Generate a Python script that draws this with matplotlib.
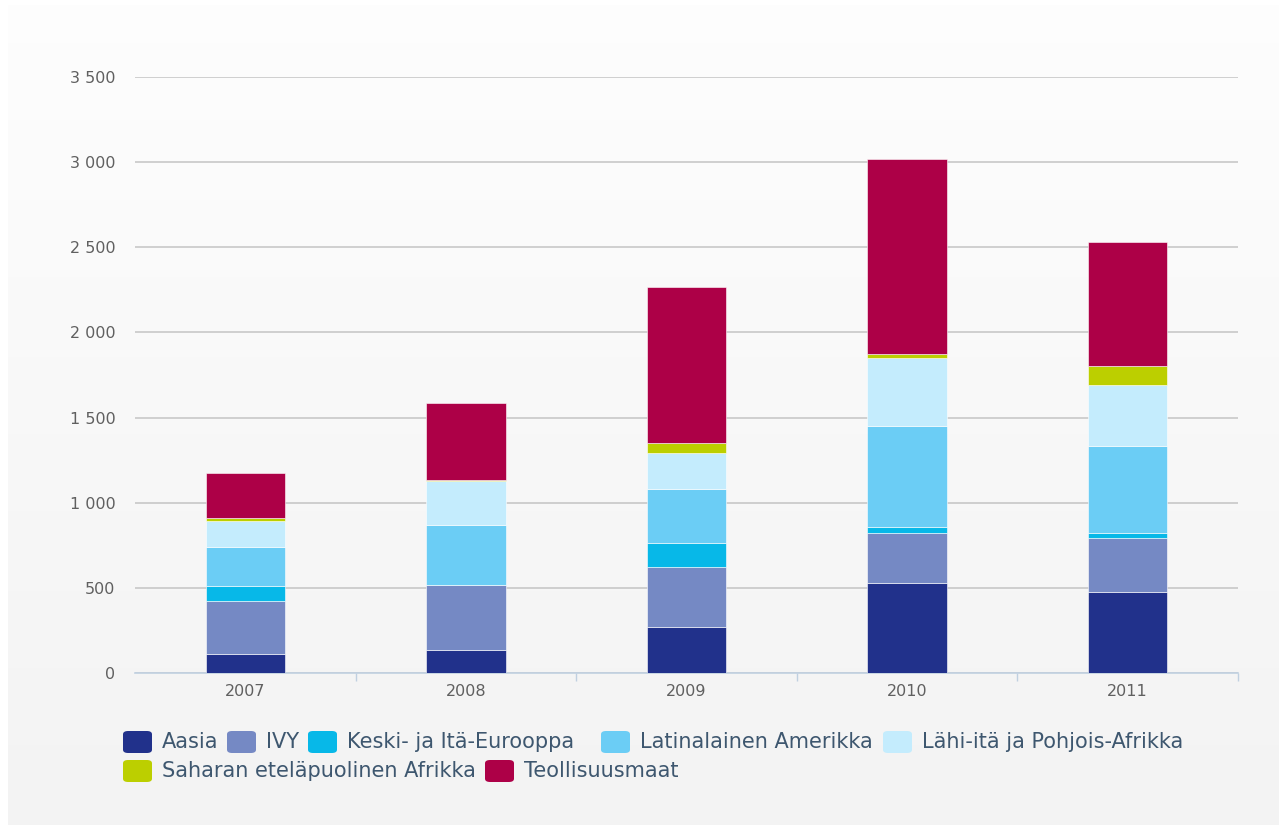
import numpy as np
import matplotlib
matplotlib.use("Agg")
import matplotlib.pyplot as plt
from matplotlib.patches import FancyBboxPatch

years = ["2007", "2008", "2009", "2010", "2011"]
aasia = [110, 135, 272, 527, 474]
ivy = [315, 382, 349, 293, 317]
keski = [88, 0, 141, 39, 33]
latin = [229, 354, 317, 593, 509]
lahi = [152, 256, 211, 396, 358]
sahara = [14, 6, 59, 25, 112]
teoll = [268, 452, 916, 1145, 726]

series_names = ["Aasia", "IVY", "Keski- ja Itä-Eurooppa", "Latinalainen Amerikka",
                "Lähi-itä ja Pohjois-Afrikka", "Saharan eteläpuolinen Afrikka", "Teollisuusmaat"]
series_colors = ["#21318b", "#7589c4", "#07b8e8", "#6bcdf5", "#c4ecfd", "#bccf00", "#ad0047"]
yticks = [0, 500, 1000, 1500, 2000, 2500, 3000, 3500]
ytick_labels = ["0", "500", "1 000", "1 500", "2 000", "2 500", "3 000", "3 500"]

W, H = 1279, 825
fig = plt.figure(figsize=(W / 100, H / 100), dpi=100, facecolor="white")

# gradient panel behind everything
bg = fig.add_axes([8 / W, 0, 1 - 8 / W, 1 - 5 / H], zorder=-10)
grad = np.linspace(0.994, 0.953, 256).reshape(-1, 1)
bg.imshow(np.dstack([grad, grad, grad]), aspect="auto", extent=[0, 1, 0, 1])
bg.axis("off")

ax = fig.add_axes([135 / W, 1 - 673 / H, (1238 - 135) / W, (673 - 77) / H])
ax.patch.set_alpha(0)

x = np.arange(len(years))
bottom = np.zeros(len(years))
for name, vals, col in zip(series_names, [aasia, ivy, keski, latin, lahi, sahara, teoll], series_colors):
    vals = np.array(vals, dtype=float)
    ax.bar(x, vals, 0.36, bottom=bottom, color=col, edgecolor="white", linewidth=0.4, zorder=3)
    bottom += vals

ax.set_xlim(-0.5, 4.5)
ax.set_ylim(0, 3500)
ax.set_yticks(yticks)
ax.set_yticklabels(ytick_labels, color="#606060", fontsize=11.5)
ax.yaxis.grid(True, color="#c8c8c8", linewidth=1.2, zorder=0)
ax.tick_params(axis="y", length=0, pad=14)

ax.set_xticks(x)
ax.set_xticklabels(years, color="#606060", fontsize=11.5)
ax.set_xticks(np.arange(0.5, 5, 1), minor=True)
ax.tick_params(axis="x", which="major", length=0, pad=8)
ax.tick_params(axis="x", which="minor", length=6, color="#c0d0e0", width=1)

for s in ["top", "right", "left"]:
    ax.spines[s].set_visible(False)
ax.spines["bottom"].set_color("#c0d0e0")
ax.spines["bottom"].set_linewidth(1.2)

# legend laid out by hand (two flowing rows like the original)
leg_pos = [(123, 742), (227, 742), (308, 742), (601, 742), (883, 742),
           (123, 771), (485, 771)]
for (px, py), name, col in zip(leg_pos, series_names, series_colors):
    sw = FancyBboxPatch((px / W, 1 - (py + 11) / H), 29 / W, 22 / H,
                        boxstyle="round,pad=0,rounding_size=0.004",
                        transform=fig.transFigure, facecolor=col, edgecolor="none")
    fig.patches.append(sw)
    fig.text((px + 39) / W, 1 - py / H, name, color="#3e576f", fontsize=15,
             va="center", ha="left")

fig.savefig("out.png", dpi=100, facecolor=fig.get_facecolor())
